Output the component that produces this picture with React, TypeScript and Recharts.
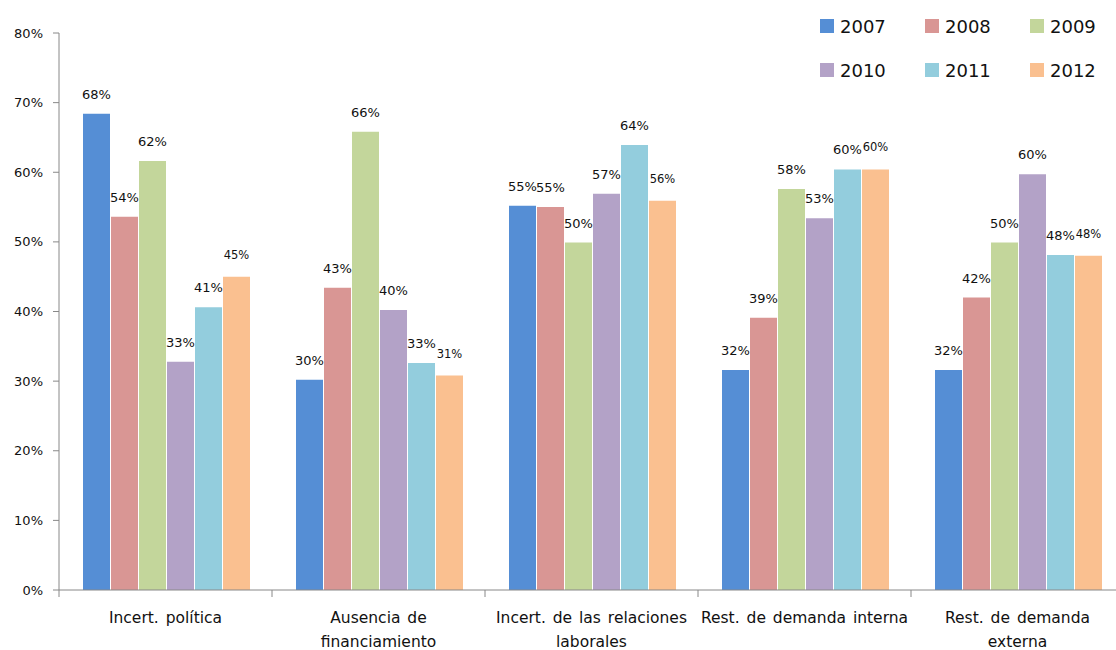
import { BarChart, Bar, XAxis, YAxis, LabelList } from 'recharts';

// Categories (line breaks as in the original axis labels)
const categories = [
  'Incert. política',
  'Ausencia de\nfinanciamiento',
  'Incert. de las relaciones\nlaborales',
  'Rest. de demanda interna',
  'Rest. de demanda\nexterna',
];

const years = ['2007', '2008', '2009', '2010', '2011', '2012'];

// Values per year, in %, one per category
const y2007 = [68.4, 30.2, 55.2, 31.6, 31.6];
const y2008 = [53.6, 43.4, 55.0, 39.1, 42.0];
const y2009 = [61.6, 65.8, 49.9, 57.6, 49.9];
const y2010 = [32.8, 40.2, 56.9, 53.4, 59.7];
const y2011 = [40.6, 32.6, 63.9, 60.4, 48.1];
const y2012 = [45.0, 30.8, 55.9, 60.4, 48.0];

const yTicks = [0, 10, 20, 30, 40, 50, 60, 70, 80];

const colors = ['#558ED5', '#D99694', '#C3D69B', '#B3A2C7', '#93CDDD', '#FAC090'];

const series = [y2007, y2008, y2009, y2010, y2011, y2012];

const chartData = categories.map((name, i) => {
  const row: Record<string, any> = { name };
  years.forEach((yr, j) => {
    row[yr] = series[j][i];
  });
  return row;
});

const FONT = '"DejaVu Sans", sans-serif';
const AXIS_Y = 590;

const CategoryTick = (props: any) => {
  const { x, payload, width } = props;
  const band = (width || 1065) / categories.length;
  const lines = String(payload.value).split('\n');
  return (
    <g>
      <line x1={x - band / 2} y1={AXIS_Y} x2={x - band / 2} y2={AXIS_Y + 7} stroke="#888" />
      <text x={x} y={AXIS_Y + 33} textAnchor="middle" fontSize={15.5} wordSpacing={2} fill="#111" fontFamily={FONT}>
        {lines.map((ln, i) => (
          <tspan key={i} x={x} dy={i === 0 ? 0 : 24}>
            {ln}
          </tspan>
        ))}
      </text>
    </g>
  );
};

const LegendBox = () => (
  <div
    style={{
      position: 'absolute',
      top: 15,
      left: 820,
      display: 'grid',
      gridTemplateColumns: '105px 105px 90px',
      rowGap: 22,
      fontFamily: FONT,
      fontSize: 18,
      color: '#111',
    }}
  >
    {years.map((yr, i) => (
      <div key={yr} style={{ display: 'flex', alignItems: 'center', height: 22 }}>
        <span
          style={{
            display: 'inline-block',
            width: 14,
            height: 14,
            background: colors[i],
            marginRight: 6,
          }}
        />
        <span>{yr}</span>
      </div>
    ))}
  </div>
);

const App = () => {
  return (
    <div style={{ position: 'fixed', top: 0, left: 0, width: 1116, height: 650, overflow: 'hidden', background: '#fff' }}>
      <BarChart
        width={1130}
        height={670}
        data={chartData}
        margin={{ top: 33, right: 6, left: 0, bottom: 20 }}
        barCategoryGap={24}
        barGap={1}
      >
        <XAxis
          dataKey="name"
          height={60}
          interval={0}
          axisLine={{ stroke: '#888' }}
          tickLine={false}
          tick={<CategoryTick />}
        />
        <YAxis
          width={59}
          domain={[0, 80]}
          ticks={yTicks}
          tickFormatter={(v) => `${v}%`}
          axisLine={{ stroke: '#888' }}
          tickLine={{ stroke: '#888' }}
          tickSize={6}
          tickMargin={10}
          tick={{ fontSize: 13, fill: '#111', fontFamily: FONT }}
        />
        {years.map((yr, i) => (
          <Bar key={yr} dataKey={yr} fill={colors[i]} isAnimationActive={false}>
            <LabelList
              dataKey={yr}
              position="top"
              offset={i === 5 ? 18 : 15}
              formatter={(v: any) => `${Math.round(Number(v))}%`}
              style={{ fontSize: i === 5 ? 11.5 : 13, fill: '#111', fontFamily: FONT }}
            />
          </Bar>
        ))}
      </BarChart>
      <LegendBox />
    </div>
  );
};

export default App;
